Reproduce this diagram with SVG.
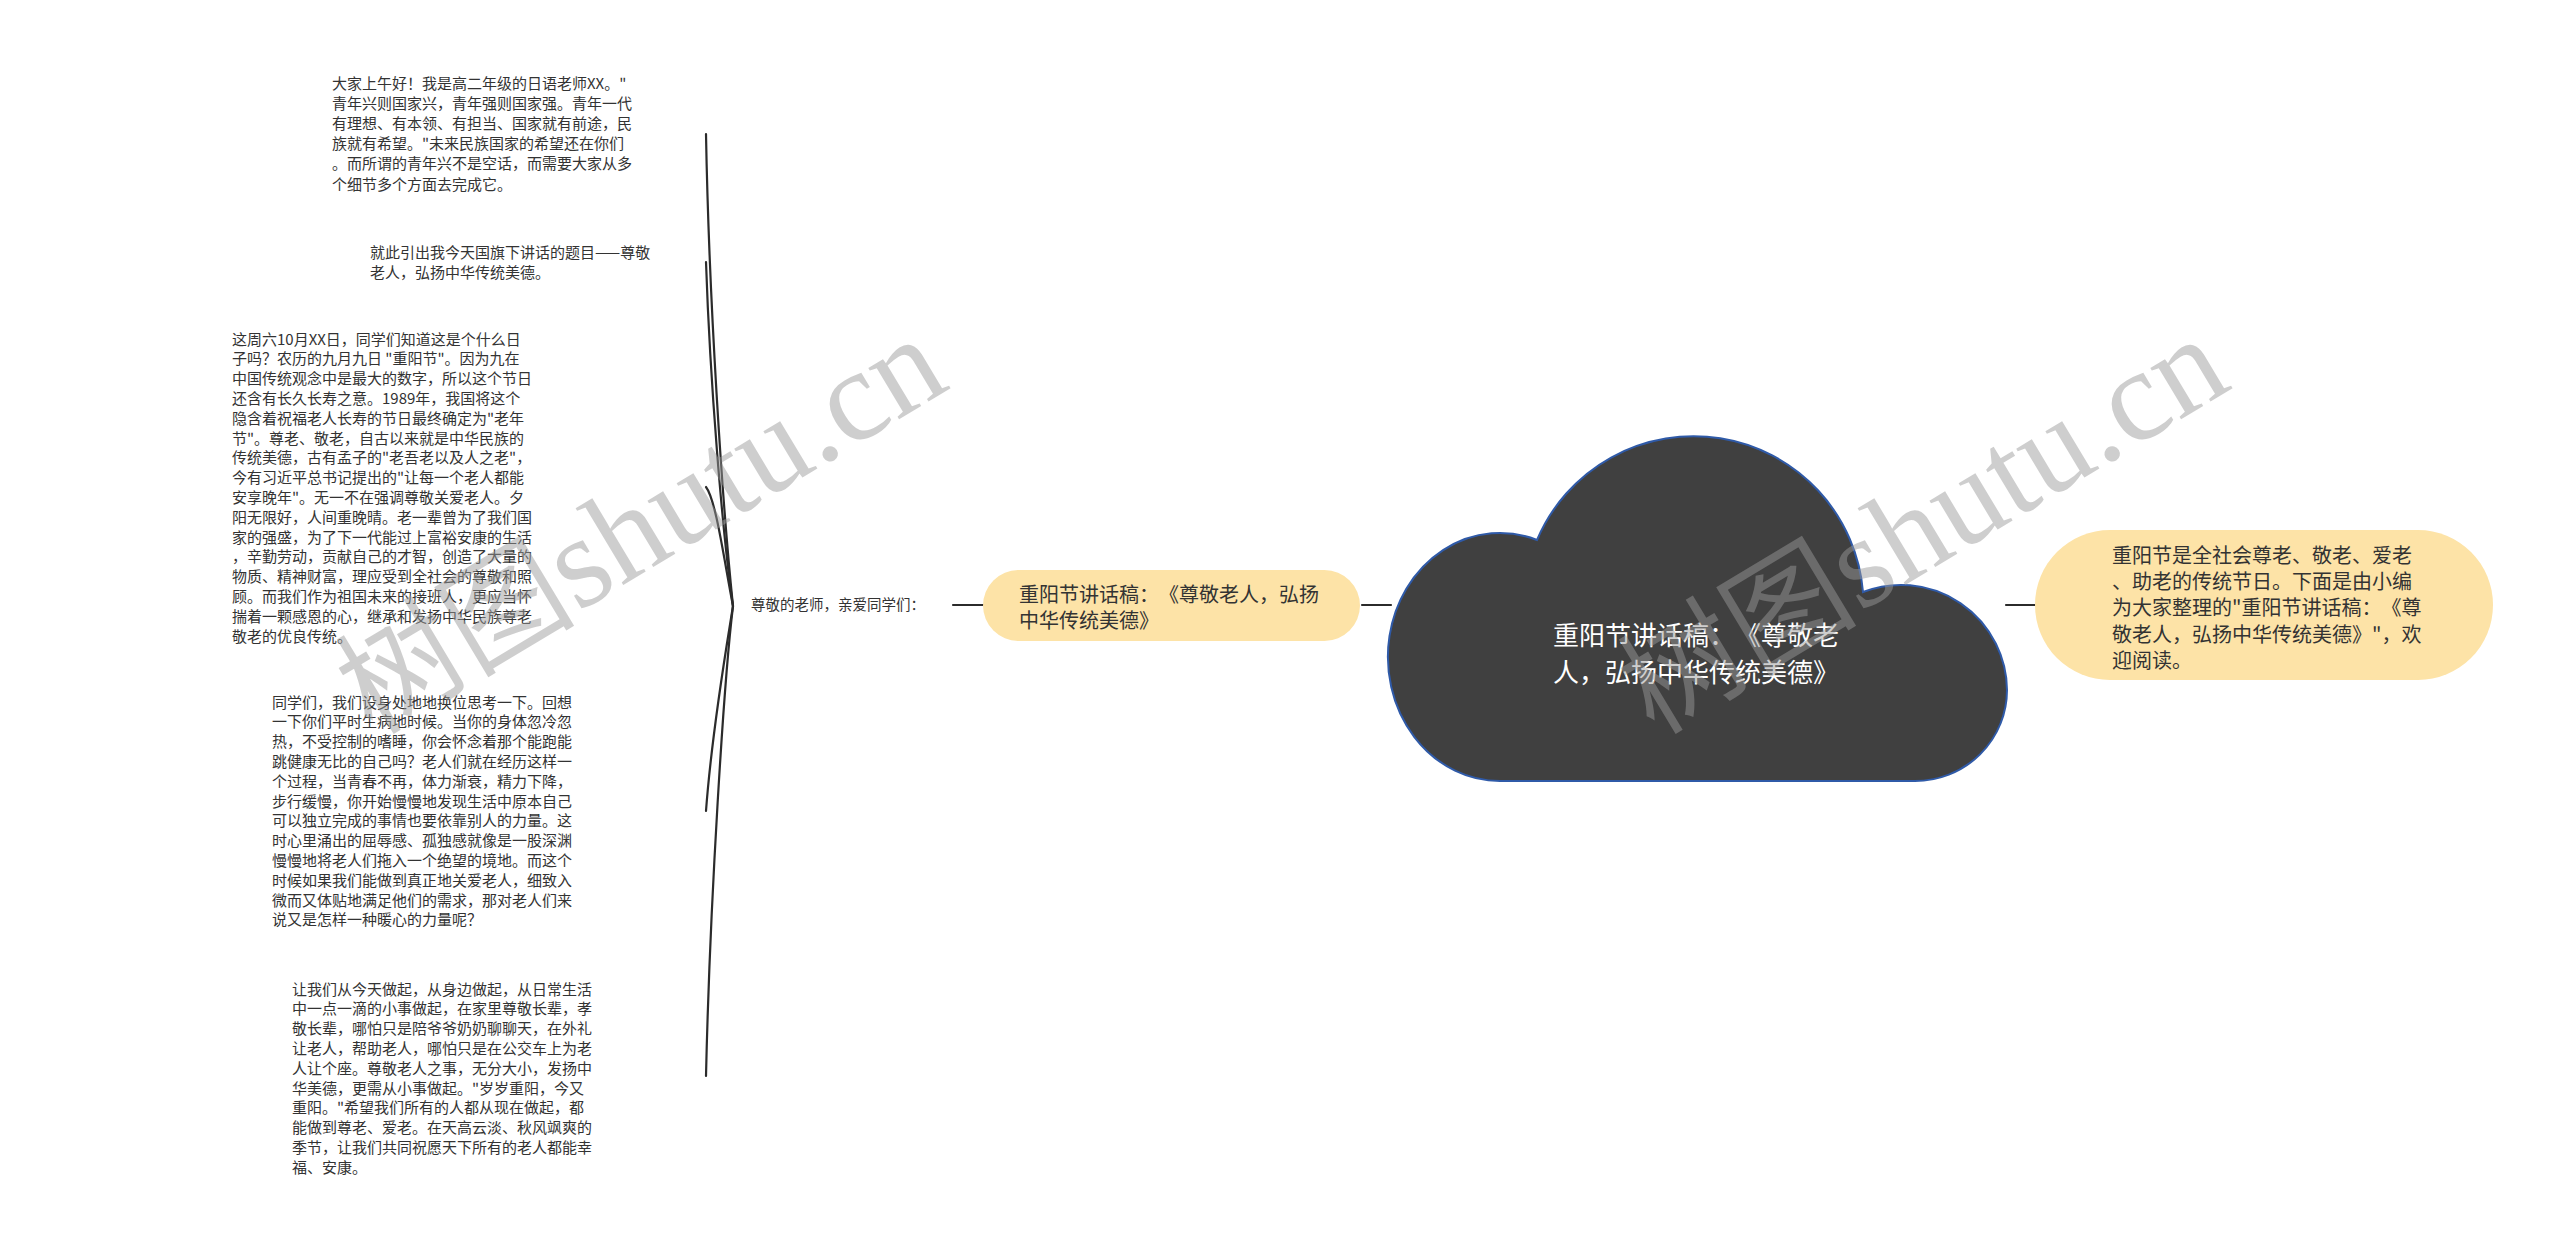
<svg xmlns="http://www.w3.org/2000/svg" width="2560" height="1251" viewBox="0 0 2560 1251">
<style>
text{text-spacing-trim:space-all;font-kerning:none}
.leaf{font-family:"Noto Sans CJK SC","Noto Sans",sans-serif;font-size:15px;fill:#333333}
.lbl{font-family:"Noto Sans CJK SC","Noto Sans",sans-serif;font-size:14.5px;fill:#333333}
.pilltxt{font-family:"Noto Sans CJK SC","Noto Sans",sans-serif;font-size:20px;fill:#333333}
.cloudtxt{font-family:"Noto Sans CJK SC","Noto Sans",sans-serif;font-size:26px;fill:#ffffff}
.pill{fill:#fde3a7}
.conn{fill:none;stroke:#2b2b2b;stroke-width:2.2;stroke-linecap:round}
.wm{fill:#9a9a9a;opacity:0.48}
.wmcjk{font-family:"Noto Sans CJK SC",sans-serif;font-size:120px}
.wmlat{font-family:"Liberation Serif",serif;font-size:130px}
</style>
<rect width="2560" height="1251" fill="#ffffff"/>

<g id="connectors">
<path class="conn" d="M706,134 C709,300 722,500 733,606"/>
<path class="conn" d="M706,262 C710,380 722,530 733,606"/>
<path class="conn" d="M706,487 C716,500 724,560 733,606"/>
<path class="conn" d="M706,811 C712,730 726,650 733,606"/>
<path class="conn" d="M706,1076 C710,900 724,680 733,606"/>
<path class="conn" d="M953,605 L983,605"/>
<path class="conn" d="M1362,605 L1391,605"/>
<path class="conn" d="M2006,605 L2035,605"/>
</g>

<g id="node-root">
<path d="M1500,781 A112,124 0 1 1 1537,540 A170,170 0 0 1 1863,592 A106,106 0 0 1 2007,690 A92,91 0 0 1 1915,781 Z" fill="#404040" stroke="#2f5aa8" stroke-width="2"/>
<text class="cloudtxt" x="1553" y="644.5">重阳节讲话稿：《尊敬老</text>
<text class="cloudtxt" x="1553" y="681.5">人，弘扬中华传统美德》</text>
</g>

<g id="node-title">
<rect class="pill" x="983" y="570" width="377" height="71" rx="35.5"/>
<text class="pilltxt" x="1019" y="601.6">重阳节讲话稿：《尊敬老人，弘扬</text>
<text class="pilltxt" x="1019" y="627.6">中华传统美德》</text>
</g>

<g id="node-intro">
<rect class="pill" x="2035" y="530" width="458" height="150" rx="75"/>
<text class="pilltxt" x="2112" y="562.6">重阳节是全社会尊老、敬老、爱老</text>
<text class="pilltxt" x="2112" y="589">、助老的传统节日。下面是由小编</text>
<text class="pilltxt" x="2112" y="615.4">为大家整理的"重阳节讲话稿：《尊</text>
<text class="pilltxt" x="2112" y="641.8">敬老人，弘扬中华传统美德》"，欢</text>
<text class="pilltxt" x="2112" y="668.2">迎阅读。</text>
</g>

<g id="node-greeting">
<text class="lbl" x="751" y="610">尊敬的老师，亲爱同学们：</text>
</g>

<g id="node-p1">
<text class="leaf" x="332" y="88.5">大家上午好！我是高二年级的日语老师XX。"</text>
<text class="leaf" x="332" y="108.7">青年兴则国家兴，青年强则国家强。青年一代</text>
<text class="leaf" x="332" y="128.9">有理想、有本领、有担当、国家就有前途，民</text>
<text class="leaf" x="332" y="149.1">族就有希望。"未来民族国家的希望还在你们</text>
<text class="leaf" x="332" y="169.3">。而所谓的青年兴不是空话，而需要大家从多</text>
<text class="leaf" x="332" y="189.5">个细节多个方面去完成它。</text>
</g>

<g id="node-p2">
<text class="leaf" x="370" y="257.5">就此引出我今天国旗下讲话的题目——尊敬</text>
<text class="leaf" x="370" y="277.5">老人，弘扬中华传统美德。</text>
</g>

<g id="node-p3">
<text class="leaf" x="232" y="344.5">这周六10月XX日，同学们知道这是个什么日</text>
<text class="leaf" x="232" y="364.3">子吗？农历的九月九日 "重阳节"。因为九在</text>
<text class="leaf" x="232" y="384.1">中国传统观念中是最大的数字，所以这个节日</text>
<text class="leaf" x="232" y="403.9">还含有长久长寿之意。1989年，我国将这个</text>
<text class="leaf" x="232" y="423.7">隐含着祝福老人长寿的节日最终确定为"老年</text>
<text class="leaf" x="232" y="443.5">节"。尊老、敬老，自古以来就是中华民族的</text>
<text class="leaf" x="232" y="463.3">传统美德，古有孟子的"老吾老以及人之老"，</text>
<text class="leaf" x="232" y="483.1">今有习近平总书记提出的"让每一个老人都能</text>
<text class="leaf" x="232" y="502.9">安享晚年"。无一不在强调尊敬关爱老人。夕</text>
<text class="leaf" x="232" y="522.7">阳无限好，人间重晚晴。老一辈曾为了我们国</text>
<text class="leaf" x="232" y="542.5">家的强盛，为了下一代能过上富裕安康的生活</text>
<text class="leaf" x="232" y="562.3">，辛勤劳动，贡献自己的才智，创造了大量的</text>
<text class="leaf" x="232" y="582.1">物质、精神财富，理应受到全社会的尊敬和照</text>
<text class="leaf" x="232" y="601.9">顾。而我们作为祖国未来的接班人，更应当怀</text>
<text class="leaf" x="232" y="621.7">揣着一颗感恩的心，继承和发扬中华民族尊老</text>
<text class="leaf" x="232" y="641.5">敬老的优良传统。</text>
</g>

<g id="node-p4">
<text class="leaf" x="272" y="707.5">同学们，我们设身处地地换位思考一下。回想</text>
<text class="leaf" x="272" y="727.3">一下你们平时生病地时候。当你的身体忽冷忽</text>
<text class="leaf" x="272" y="747.1">热，不受控制的嗜睡，你会怀念着那个能跑能</text>
<text class="leaf" x="272" y="766.9">跳健康无比的自己吗？老人们就在经历这样一</text>
<text class="leaf" x="272" y="786.7">个过程，当青春不再，体力渐衰，精力下降，</text>
<text class="leaf" x="272" y="806.5">步行缓慢，你开始慢慢地发现生活中原本自己</text>
<text class="leaf" x="272" y="826.3">可以独立完成的事情也要依靠别人的力量。这</text>
<text class="leaf" x="272" y="846.1">时心里涌出的屈辱感、孤独感就像是一股深渊</text>
<text class="leaf" x="272" y="865.9">慢慢地将老人们拖入一个绝望的境地。而这个</text>
<text class="leaf" x="272" y="885.7">时候如果我们能做到真正地关爱老人，细致入</text>
<text class="leaf" x="272" y="905.5">微而又体贴地满足他们的需求，那对老人们来</text>
<text class="leaf" x="272" y="925.3">说又是怎样一种暖心的力量呢？</text>
</g>

<g id="node-p5">
<text class="leaf" x="292" y="994.5">让我们从今天做起，从身边做起，从日常生活</text>
<text class="leaf" x="292" y="1014.3">中一点一滴的小事做起，在家里尊敬长辈，孝</text>
<text class="leaf" x="292" y="1034.1">敬长辈，哪怕只是陪爷爷奶奶聊聊天，在外礼</text>
<text class="leaf" x="292" y="1053.9">让老人，帮助老人，哪怕只是在公交车上为老</text>
<text class="leaf" x="292" y="1073.7">人让个座。尊敬老人之事，无分大小，发扬中</text>
<text class="leaf" x="292" y="1093.5">华美德，更需从小事做起。"岁岁重阳，今又</text>
<text class="leaf" x="292" y="1113.3">重阳。"希望我们所有的人都从现在做起，都</text>
<text class="leaf" x="292" y="1133.1">能做到尊老、爱老。在天高云淡、秋风飒爽的</text>
<text class="leaf" x="292" y="1152.9">季节，让我们共同祝愿天下所有的老人都能幸</text>
<text class="leaf" x="292" y="1172.7">福、安康。</text>
</g>

<g id="watermark">
<text class="wm" transform="translate(372,736) rotate(-31)"><tspan class="wmcjk">树图</tspan><tspan class="wmlat">shutu.cn</tspan></text>
<text class="wm" transform="translate(1654,736) rotate(-31)"><tspan class="wmcjk">树图</tspan><tspan class="wmlat">shutu.cn</tspan></text>
</g>
</svg>
